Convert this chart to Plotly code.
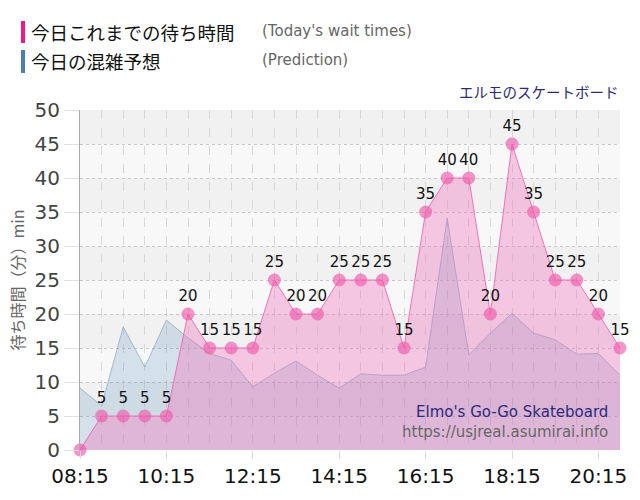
import plotly.graph_objects as go

times = ["08:15","08:45","09:15","09:45","10:15","10:45","11:15","11:45","12:15","12:45",
         "13:15","13:45","14:15","14:45","15:15","15:45","16:15","16:45","17:15","17:45",
         "18:15","18:45","19:15","19:45","20:15","20:45"]
wait = [0,5,5,5,5,20,15,15,15,25,20,20,25,25,25,15,35,40,40,20,45,35,25,25,20,15]
pred = [9.1,6.5,18.1,12.2,19.1,16.5,14.2,13.2,9.3,11.3,13.1,11.0,9.1,11.2,11.0,11.0,
        12.2,34.1,14.0,17.2,20.1,17.2,16.2,14.1,14.2,11.0]
tick_labels = ["08:15","10:15","12:15","14:15","16:15","18:15","20:15"]

day = "2024-01-01 "
x = [day + t for t in times]
labels = ["" if v == 0 else str(v) for v in wait]

font_main = "DejaVu Sans, Verdana, sans-serif"
font_jp = "Noto Sans CJK JP, sans-serif"

fig = go.Figure()
fig.add_trace(go.Scatter(
    x=x, y=pred, mode="lines", fill="tozeroy",
    line=dict(color="rgba(140,175,205,0.8)", width=1),
    fillcolor="rgba(70,130,180,0.2)", hoverinfo="skip", showlegend=False))
fig.add_trace(go.Scatter(
    x=x, y=wait, mode="lines+markers+text", fill="tozeroy",
    line=dict(color="rgba(240,95,175,0.85)", width=1),
    fillcolor="rgba(242,110,185,0.36)",
    marker=dict(size=13, color="rgba(238,90,170,0.65)", line=dict(width=0)),
    text=labels, textposition="top center",
    textfont=dict(family=font_main, size=15, color="#111"),
    cliponaxis=False, showlegend=False))

def px(xp):
    return (xp - 80) / 540

def py(yp):
    return (450 - yp) / 340

shapes = []
for lo in range(5, 50, 10):
    shapes.append(dict(type="rect", xref="paper", yref="y", x0=0, x1=1, y0=lo, y1=lo + 5,
                       fillcolor="#f1f1f1", line=dict(width=0), layer="below"))
shapes.append(dict(type="rect", xref="paper", yref="paper", x0=px(21), x1=px(25),
                   y0=py(43), y1=py(21), fillcolor="#f0188c", line=dict(width=0)))
shapes.append(dict(type="rect", xref="paper", yref="paper", x0=px(21), x1=px(25),
                   y0=py(73), y1=py(50), fillcolor="#4a80b0", line=dict(width=0)))

annotations = [
    dict(text="今日これまでの待ち時間", x=px(29), y=py(32), xanchor="left", yanchor="middle",
         font=dict(family=font_jp, size=18.5, color="#111")),
    dict(text="(Today's wait times)", x=px(260), y=py(31), xanchor="left", yanchor="middle",
         font=dict(family=font_main, size=15, color="#666")),
    dict(text="今日の混雑予想", x=px(29), y=py(61), xanchor="left", yanchor="middle",
         font=dict(family=font_jp, size=18.5, color="#111")),
    dict(text="(Prediction)", x=px(260), y=py(60), xanchor="left", yanchor="middle",
         font=dict(family=font_main, size=15, color="#666")),
    dict(text="エルモのスケートボード", x=px(621), y=py(91), xanchor="right", yanchor="middle",
         font=dict(family=font_jp, size=14.5, color="#2b2b7a")),
    dict(text="Elmo's Go-Go Skateboard", x=px(610), y=py(412), xanchor="right", yanchor="middle",
         font=dict(family=font_main, size=15, color="#2b2b7a")),
    dict(text="https://usjreal.asumirai.info", x=px(610), y=py(432), xanchor="right", yanchor="middle",
         font=dict(family=font_main, size=15, color="#666")),
]
for a in annotations:
    a.update(xref="paper", yref="paper", showarrow=False)

fig.update_layout(
    width=640, height=500,
    margin=dict(l=80, r=20, t=110, b=50),
    paper_bgcolor="white", plot_bgcolor="#f8f8f8",
    shapes=shapes, annotations=annotations,
    xaxis=dict(
        type="date", range=[x[0], x[-1]],
        tickvals=[day + t for t in tick_labels], ticktext=tick_labels,
        tickfont=dict(family=font_main, size=20, color="#111"),
        showgrid=True, gridcolor="#d8d8d8", griddash="dash", gridwidth=1,
        ticks="outside", ticklen=8, tickcolor="#ddd",
        minor=dict(dtick=30*60*1000, tick0=x[0], showgrid=True, gridcolor="#d8d8d8",
                   griddash="dash", ticks=""),
        showline=False, zeroline=False, fixedrange=True),
    yaxis=dict(
        range=[0, 50], dtick=5, tick0=0,
        tickfont=dict(family=font_main, size=20, color="#444"),
        showgrid=True, gridcolor="#c8c8c8", griddash="dot", gridwidth=1,
        ticks="outside", ticklen=15, tickcolor="#e0e0e0",
        showline=True, linecolor="#aaa", linewidth=1, zeroline=False,
        title=dict(text="待ち時間（分）min", font=dict(family=font_jp, size=16, color="#666"),
                   standoff=5)),
)

fig.write_html("out.html", config={"displayModeBar": False},
               post_script="document.body.style.margin='0';")
